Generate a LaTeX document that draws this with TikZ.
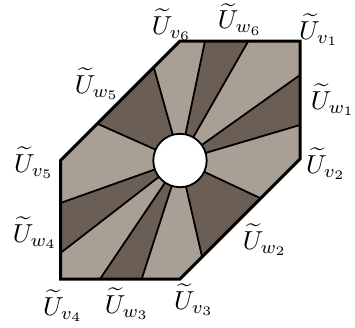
\documentclass[tikz,border=0pt]{standalone}
\definecolor{lightsec}{RGB}{170,159,149}
\definecolor{darksec}{RGB}{107,94,84}
\begin{document}
\begin{tikzpicture}[x=1pt,y=-1pt,
  lab/.style={scale=2.6, inner sep=0pt},
  ray/.style={line width=1.8pt},
  outline/.style={line width=3pt, line join=miter}]
\useasboundingbox (0,0) rectangle (355,327);
\coordinate (C) at (180,160.5);
% hexagon corners
\coordinate (H1) at (300,41);
\coordinate (H2) at (300,159);
\coordinate (H3) at (180,279);
\coordinate (H4) at (60.5,279);
\coordinate (H5) at (60.5,160.5);
\coordinate (H6) at (180,41);
% boundary points of the rays
\coordinate (P1) at (205,41);
\coordinate (P2) at (248.3,41);
\coordinate (P3) at (300,75);
\coordinate (P4) at (300,125);
\coordinate (P5) at (260,198);
\coordinate (P6) at (202,256.5);
\coordinate (P7) at (141.7,279);
\coordinate (P8) at (100,279);
\coordinate (P9) at (60.5,253);
\coordinate (P10) at (60.5,203);
\coordinate (P11) at (98,124);
\coordinate (P12) at (154,68);
% dark background
\fill[darksec] (H1) -- (H2) -- (H3) -- (H4) -- (H5) -- (H6) -- cycle;
% light sectors
\fill[lightsec] (C) -- (P2) -- (H1) -- (P3) -- cycle;
\fill[lightsec] (C) -- (P4) -- (H2) -- (P5) -- cycle;
\fill[lightsec] (C) -- (P6) -- (H3) -- (P7) -- cycle;
\fill[lightsec] (C) -- (P8) -- (H4) -- (P9) -- cycle;
\fill[lightsec] (C) -- (P10) -- (H5) -- (P11) -- cycle;
\fill[lightsec] (C) -- (P12) -- (H6) -- (P1) -- cycle;
% rays
\foreach \p in {P1,P2,P3,P4,P5,P6,P7,P8,P9,P10,P11,P12}
  \draw[ray] (C) -- (\p);
% hole
\filldraw[fill=white, line width=1.8pt] (C) circle (26.7);
% outline
\draw[outline] (H1) -- (H2) -- (H3) -- (H4) -- (H5) -- (H6) -- cycle;
% labels
\node[lab] (lv1) at (319,30) {$\widetilde{U}_{v_1}$};
\node[lab] (lw1) at (333,100) {$\widetilde{U}_{w_1}$};
\node[lab] (lv2) at (326,164) {$\widetilde{U}_{v_2}$};
\node[lab] (lw2) at (265,240) {$\widetilde{U}_{w_2}$};
\node[lab] (lv3) at (194,300) {$\widetilde{U}_{v_3}$};
\node[lab] (lw3) at (127,304) {$\widetilde{U}_{w_3}$};
\node[lab] (lv4) at (63,306) {$\widetilde{U}_{v_4}$};
\node[lab] (lw4) at (35,233) {$\widetilde{U}_{w_4}$};
\node[lab] (lv5) at (34,163) {$\widetilde{U}_{v_5}$};
\node[lab] (lw5) at (97,84) {$\widetilde{U}_{w_5}$};
\node[lab] (lv6) at (171.7,25) {$\widetilde{U}_{v_6}$};
\node[lab] (lw6) at (240,19.5) {$\widetilde{U}_{w_6}$};
\end{tikzpicture}
\end{document}
